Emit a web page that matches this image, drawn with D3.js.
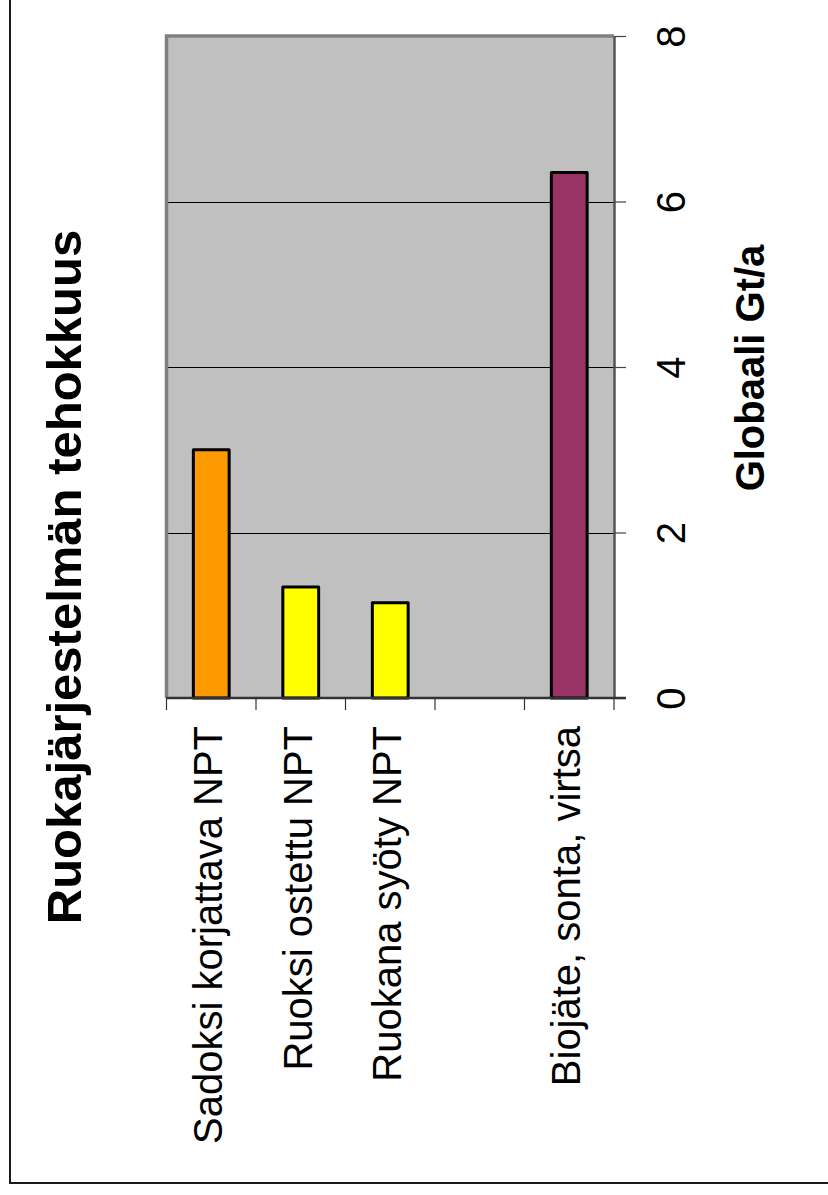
<!DOCTYPE html>
<html>
<head>
<meta charset="utf-8">
<script src="https://cdn.jsdelivr.net/npm/d3@7"></script>
<style>
  html, body { margin: 0; padding: 0; background: #fff; }
  svg { display: block; }
  text { font-family: "Liberation Sans", Arial, Helvetica, sans-serif; fill: #000; }
</style>
</head>
<body>
<script>
// Food system efficiency, global flows in Gt per year (chart drawn turned a quarter turn)
const categories = [
  "Sadoksi korjattava NPT",
  "Ruoksi ostettu NPT",
  "Ruokana syöty NPT",
  "",
  "Biojäte, sonta, virtsa"
];
const values = [3.0, 1.34, 1.15, null, 6.35];
const barColors = ["#FF9900", "#FFFF00", "#FFFF00", null, "#993366"];
const valueTicks = [0, 2, 4, 6, 8];
const titleText = "Ruokajärjestelmän tehokkuus";
const axisTitleText = "Globaali Gt/a";

const W = 828, H = 1195;
const plot = { left: 166.5, right: 614, top: 36, bottom: 698 };

const svg = d3.select("body").append("svg")
  .attr("width", W).attr("height", H);

// outer chart frame (only left and bottom edges fall inside the page)
svg.append("path")
  .attr("d", `M10,-5 L10,1183 L835,1183`)
  .attr("fill", "none")
  .attr("stroke", "#1a1a1a")
  .attr("stroke-width", 2);

const x = d3.scaleBand()
  .domain(d3.range(categories.length))
  .range([plot.left, plot.right])
  .paddingInner(0.6)
  .paddingOuter(0.3);

const y = d3.scaleLinear()
  .domain([0, 8])
  .range([plot.bottom, plot.top]);

// plot area background
svg.append("rect")
  .attr("x", plot.left).attr("y", plot.top)
  .attr("width", plot.right - plot.left)
  .attr("height", plot.bottom - plot.top)
  .attr("fill", "#C0C0C0");

// gridlines
svg.append("g")
  .selectAll("line")
  .data(valueTicks.filter(v => v > 0 && v < 8))
  .join("line")
  .attr("x1", plot.left).attr("x2", plot.right)
  .attr("y1", d => Math.round(y(d)) + 0.5).attr("y2", d => Math.round(y(d)) + 0.5)
  .attr("stroke", "#000").attr("stroke-width", 1);

// plot area border (left and top)
svg.append("path")
  .attr("d", `M${plot.left},${plot.bottom} L${plot.left},${plot.top} L${plot.right},${plot.top}`)
  .attr("fill", "none")
  .attr("stroke", "#808080")
  .attr("stroke-width", 3.5);

// bars
svg.append("g")
  .selectAll("rect")
  .data(values.map((v, i) => ({ v, i })).filter(d => d.v != null))
  .join("rect")
  .attr("x", d => x(d.i))
  .attr("width", x.bandwidth())
  .attr("y", d => y(d.v))
  .attr("height", d => y(0) - y(d.v))
  .attr("fill", d => barColors[d.i])
  .attr("stroke", "#000")
  .attr("stroke-width", 3)
  .attr("stroke-linejoin", "round");

// value axis on the right
const yAxis = svg.append("g")
  .attr("transform", `translate(${plot.right},0)`)
  .call(d3.axisRight(y).tickValues(valueTicks).tickSize(12).tickSizeOuter(0));
yAxis.select(".domain").attr("stroke", "#555").attr("stroke-width", 2.5);
yAxis.selectAll(".tick line").attr("stroke", "#444").attr("stroke-width", 1.2);
yAxis.selectAll(".tick text")
  .attr("x", null).attr("y", null).attr("dy", null)
  .attr("transform", "translate(71,0) rotate(-90)")
  .attr("text-anchor", "middle")
  .style("font-family", "'Liberation Sans', Arial, sans-serif")
  .style("font-size", "40px")
  .attr("fill", "#000");

// category axis line and ticks at band boundaries
svg.append("line")
  .attr("x1", plot.left).attr("x2", plot.right + 12)
  .attr("y1", plot.bottom).attr("y2", plot.bottom)
  .attr("stroke", "#333").attr("stroke-width", 2.5);
const boundaries = d3.range(categories.length + 1).map(i => x.range()[0] + i * x.step());
svg.append("g")
  .selectAll("line")
  .data(boundaries)
  .join("line")
  .attr("x1", d => d).attr("x2", d => d)
  .attr("y1", plot.bottom).attr("y2", plot.bottom + 12)
  .attr("stroke", "#333").attr("stroke-width", 1.2);

// category labels
svg.append("g")
  .selectAll("text")
  .data(categories.map((c, i) => ({ c, i })).filter(d => d.c))
  .join("text")
  .attr("transform", d => `translate(${x(d.i) + x.bandwidth() / 2 + 11},726) rotate(-90)`)
  .attr("text-anchor", "end")
  .style("font-size", "40px")
  .text(d => d.c);

// chart title
svg.append("text")
  .attr("transform", "translate(81,577) rotate(-90)")
  .attr("text-anchor", "middle")
  .style("font-size", "49px")
  .style("font-weight", "bold")
  .text(titleText);

// value axis title
svg.append("text")
  .attr("transform", "translate(764,368) rotate(-90)")
  .attr("text-anchor", "middle")
  .style("font-size", "40px")
  .style("font-weight", "bold")
  .text(axisTitleText);
</script>
</body>
</html>
